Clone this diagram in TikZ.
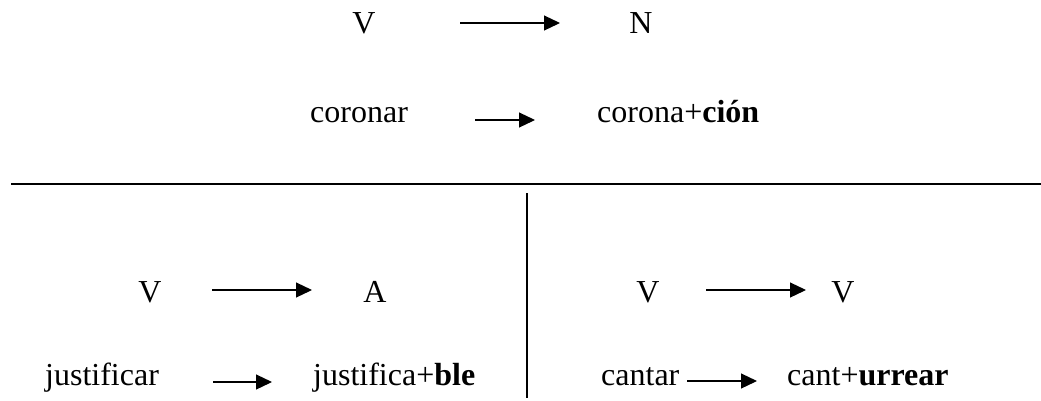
\documentclass[tikz,border=0pt]{standalone}
\usepackage{fontspec}
\setmainfont{Liberation Serif}
\usetikzlibrary{arrows.meta}
\begin{document}
\begin{tikzpicture}[x=1pt,y=-1pt,
  word/.style={inner sep=0pt,anchor=base west,font=\fontsize{32}{38}\selectfont},
  cat/.style={inner sep=0pt,anchor=base,font=\fontsize{32}{38}\selectfont},
  derive/.style={line width=1.2pt,-{Triangle[length=16pt,width=15pt]}},
  rule/.style={line width=1.8pt},
  divider/.style={line width=1.3pt}]
\useasboundingbox (0,0) rectangle (1041,400);

% upper panel: V -> N
\node[cat] (vN) at (364,33) {V};
\node[cat] (nN) at (641,33) {N};
\coordinate (a1s) at (460,23);
\coordinate (a1e) at (560,23);
\draw[derive] (a1s) -- (a1e);

\node[word] (coronar) at (310,122) {coronar};
\node[word] (coronacion) at (597,122) {corona+\textbf{ción}};
\coordinate (a2s) at (475,120);
\coordinate (a2e) at (535,120);
\draw[derive] (a2s) -- (a2e);

% separators
\coordinate (hl) at (11,184);
\coordinate (hr) at (1041,184);
\draw[rule] (hl) -- (hr);
\coordinate (vt) at (527,193);
\coordinate (vb) at (527,398);
\draw[divider] (vt) -- (vb);

% lower left: V -> A
\node[cat] (vA) at (150,302) {V};
\node[cat] (aA) at (375,302) {A};
\coordinate (a3s) at (212,290);
\coordinate (a3e) at (312,290);
\draw[derive] (a3s) -- (a3e);

\node[word] (justificar) at (45,385) {justificar};
\node[word] (justificable) at (313,385) {justifica+\textbf{ble}};
\coordinate (a4s) at (213,382);
\coordinate (a4e) at (272,382);
\draw[derive] (a4s) -- (a4e);

% lower right: V -> V
\node[cat] (vV) at (648,302) {V};
\node[cat] (vV2) at (843,302) {V};
\coordinate (a5s) at (706,290);
\coordinate (a5e) at (806,290);
\draw[derive] (a5s) -- (a5e);

\node[word] (cantar) at (601,385) {cantar};
\node[word] (canturrear) at (787,385) {cant+\textbf{urrear}};
\coordinate (a6s) at (687,381);
\coordinate (a6e) at (757,381);
\draw[derive] (a6s) -- (a6e);
\end{tikzpicture}
\end{document}
